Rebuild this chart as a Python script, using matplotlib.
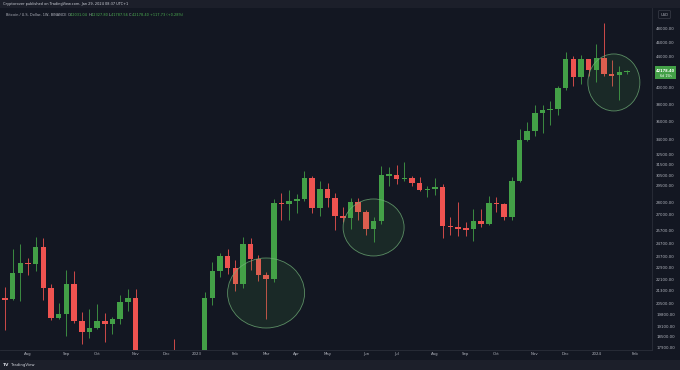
import matplotlib
matplotlib.use('Agg')
import matplotlib.pyplot as plt
import matplotlib.transforms as mtransforms
from matplotlib.patches import Ellipse, Rectangle
import numpy as np
import pandas as pd

# weekly BTC/USD candles (Binance), first week starts on this Monday
first_week = '2022-07-11'
opens = [20840, 20790, 22580, 23300, 23170, 24440, 21520, 19640, 19880, 21830,
         19420, 18800, 19050, 19420, 19260, 19570, 20630, 20900, 16330, 16280,
         16460, 17110, 17090, 16760, 16840, 16540, 17130, 20870, 22710, 23740,
         22930, 21780, 24640, 23550, 22430, 22140, 28040, 27950, 28180, 28330,
         30300, 27590, 29250, 28430, 26910, 26750, 28070, 27220, 25850, 26510,
         30530, 30590, 30160, 30290, 29790, 29200, 29280, 29410, 26100, 26010,
         25870, 25830, 26530, 26250, 27980, 27930, 26850, 29990, 34080, 35010,
         37060, 37360, 37450, 39970, 43780, 41370, 43720, 42280, 43930, 41730,
         41580, 42031]
highs = [21600, 24280, 24670, 23650, 25210, 25140, 21820, 20580, 22800, 22670,
         19960, 20190, 20480, 19950, 19700, 21090, 21480, 21450, 17190, 16810,
         17320, 17430, 18390, 16960, 16970, 17230, 21260, 23370, 23960, 24260,
         23460, 25250, 25130, 23880, 22600, 28390, 28870, 29190, 28800, 30970,
         30490, 30030, 29820, 28890, 27670, 28450, 28450, 27400, 26800, 31430,
         31280, 31500, 31800, 30420, 30330, 29530, 30250, 29690, 26830, 28140,
         26400, 27480, 27480, 28600, 28580, 28000, 30350, 35280, 35980, 38000,
         37970, 38420, 40250, 44700, 44200, 44300, 43800, 45900, 48970, 43580,
         42840, 42328]
lows = [18910, 20750, 20700, 22430, 22660, 20760, 19520, 19540, 18540, 19320,
        18130, 18470, 18960, 18190, 18650, 19240, 20050, 15590, 15820, 15480,
        16000, 16680, 16260, 16560, 16330, 16500, 17080, 20400, 22300, 22500,
        21350, 21530, 22770, 21970, 19550, 21920, 26600, 26540, 27200, 28170,
        27130, 26940, 27680, 25800, 26390, 25870, 26600, 25350, 24800, 26260,
        29500, 29700, 29950, 29500, 29100, 28580, 28700, 25170, 25350, 25330,
        25330, 24900, 26010, 26170, 27220, 26540, 26550, 29880, 33940, 34520,
        34800, 35630, 36800, 39720, 40220, 40500, 41500, 40750, 41500, 40280,
        38560, 41788]
closes = [20790, 22580, 23300, 23170, 24440, 21520, 19640, 19880, 21830, 19420,
          18800, 19050, 19420, 19260, 19570, 20630, 20900, 16330, 16280, 16460,
          17110, 17090, 16760, 16840, 16540, 17130, 20870, 22710, 23740, 22930,
          21780, 24640, 23550, 22430, 22140, 28040, 27950, 28180, 28330, 30300,
          27590, 29250, 28430, 26910, 26750, 28070, 27220, 25850, 26510, 30530,
          30590, 30160, 30290, 29790, 29200, 29280, 29410, 26100, 26010, 25870,
          25830, 26530, 26250, 27980, 27930, 26850, 29990, 34080, 35010, 37060,
          37360, 37450, 39970, 43780, 41370, 43720, 42280, 43930, 41730, 41580,
          42060, 42178.40]

price_labels = [48000, 46000, 44000, 40000, 38000, 36000, 34000, 32500, 31500,
                30500, 29500, 28000, 27000, 25700, 24700, 23700, 22900, 22100,
                21300, 20500, 19800, 19100, 18500, 17900]
last_price = 42178.40
countdown = '6d 15h'
header = 'Cryptorover published on TradingView.com, Jan 29, 2024 08:37 UTC+1'
symbol = 'Bitcoin / U.S. Dollar, 1W, BINANCE '
ohlc_text = [('O', '42031.04 '), ('H', '42327.80 '), ('L', '41787.56 '),
             ('C', '42178.40 +117.73 (+0.28%)')]

# highlighted zones: (centre week, centre price, width px, height px)
zone_weeks = ['2023-03-06', '2023-06-12', '2024-01-17']
zone_prices = [21200, 25970, 40690]
zone_sizes = [(77, 70), (61, 57), (52, 57)]

BG = '#131722'
UP = '#43a047'
DOWN = '#ef5350'
TXT = '#b2b5be'
W, H = 680, 370

t0 = pd.Timestamp(first_week)
n = len(opens)
dates = pd.date_range(t0, periods=n + 4, freq='W-MON')
xs = np.arange(n)


def week_pos(d):
    return (pd.Timestamp(d) - t0).days / 7.0


def fx(px):
    return px / W


def fy(py):
    return 1 - py / H


fig = plt.figure(figsize=(W / 100, H / 100), dpi=100, facecolor='#1c1f2a')

# chart pane background incl. time axis
fig.add_artist(Rectangle((0, fy(360)), 1, fy(8) - fy(360), transform=fig.transFigure,
                         facecolor=BG, edgecolor='none', zorder=0))

ax = fig.add_axes([0, fy(350), fx(652), fy(8) - fy(350)])
ax.set_facecolor(BG)
ax.set_yscale('log')
ax.set_xlim(-0.646, 84.25)
ax.set_ylim(17770, 51240)
for s in ax.spines.values():
    s.set_visible(False)
ax.spines['bottom'].set_visible(True)
ax.spines['bottom'].set_color('#2a2e39')
ax.spines['bottom'].set_linewidth(0.6)
ax.yaxis.set_visible(False)
ax.minorticks_off()

o = np.array(opens, float)
c = np.array(closes, float)
h = np.array(highs, float)
lo = np.array(lows, float)
top = np.maximum(o, c)
bot = np.minimum(o, c)
small = top / bot < 1.004
mid = np.sqrt(top * bot)
top = np.where(small, mid * 1.002, top)
bot = np.where(small, mid / 1.002, bot)
cols = np.where(c >= o, UP, DOWN)

ax.vlines(xs, lo, h, colors=cols, linewidth=0.7, alpha=0.85, zorder=2)
ax.bar(xs, top - bot, bottom=bot, width=0.72, color=cols, linewidth=0, zorder=3)

# month labels on time axis
tick_pos, tick_lab = [], []
for i in range(1, len(dates)):
    if dates[i].month != dates[i - 1].month:
        tick_pos.append(i)
        tick_lab.append(str(dates[i].year) if dates[i].month == 1 else dates[i].strftime('%b'))
ax.set_xticks(tick_pos)
ax.set_xticklabels(tick_lab, fontsize=2.8, color=TXT)
ax.tick_params(axis='x', length=0, pad=1.6)

# price axis
pax = fig.add_axes([fx(652), fy(350), fx(28), fy(8) - fy(350)], sharey=ax)
pax.set_facecolor(BG)
pax.set_xticks([])
pax.yaxis.set_visible(False)
for s in pax.spines.values():
    s.set_visible(False)
pax.spines['left'].set_visible(True)
pax.spines['left'].set_color('#2a2e39')
pax.spines['left'].set_linewidth(0.6)
tr = mtransforms.blended_transform_factory(pax.transAxes, pax.transData)
for p in price_labels:
    pax.text(0.48, p, f'{p:.2f}', transform=tr, fontsize=2.8, color=TXT,
             ha='center', va='center')

fig.text(fx(664.5), fy(14.5), 'USD', fontsize=2.6, color=TXT, ha='center', va='center',
         bbox=dict(boxstyle='round,pad=0.6,rounding_size=0.4', facecolor=BG,
                   edgecolor='#434651', linewidth=0.4))

# current price label
fig.canvas.draw()
yp = pax.transData.transform((0, last_price))[1]
fyp = fig.transFigure.inverted().transform((0, yp))[1]
fig.add_artist(Rectangle((fx(655), fyp - 8 / H), fx(21), 13 / H, transform=fig.transFigure,
                         facecolor=UP, edgecolor='none', zorder=5))
fig.text(fx(665.5), fyp, f'{last_price:.2f}', fontsize=2.6, color='white',
         ha='center', va='center', zorder=6, fontweight='bold')
fig.text(fx(665.5), fyp - 5.5 / H, countdown, fontsize=2.4, color='white',
         ha='center', va='center', zorder=6)

# highlighted zones
for d, p, (ew, eh) in zip(zone_weeks, zone_prices, zone_sizes):
    cx, cy = fig.transFigure.inverted().transform(ax.transData.transform((week_pos(d), p)))
    fig.add_artist(Ellipse((cx, cy), ew / W, eh / H, transform=fig.transFigure,
                           facecolor=(0.30, 0.69, 0.31, 0.12), edgecolor=(0.45, 0.70, 0.48, 0.75),
                           linewidth=0.6, zorder=4))

# header texts
fig.text(fx(3), fy(4.5), header, fontsize=2.5, color='#d1d4dc', ha='left', va='center')

renderer = fig.canvas.get_renderer()
x_px = 6.0
parts = [(symbol, TXT)]
for k, v in ohlc_text:
    parts.append((k, TXT))
    parts.append((v, '#4caf50'))
for s, col in parts:
    t = fig.text(fx(x_px), fy(14.5), s, fontsize=2.5, color=col, ha='left', va='center')
    x_px += t.get_window_extent(renderer).width

# bottom logo
fig.text(fx(3), fy(365), 'TV', fontsize=3.2, color='#d1d4dc', ha='left', va='center',
         fontweight='bold')
fig.text(fx(11), fy(365), 'TradingView', fontsize=2.8, color='#d1d4dc', ha='left', va='center')

fig.savefig('out.png', dpi=100, facecolor=fig.get_facecolor())
